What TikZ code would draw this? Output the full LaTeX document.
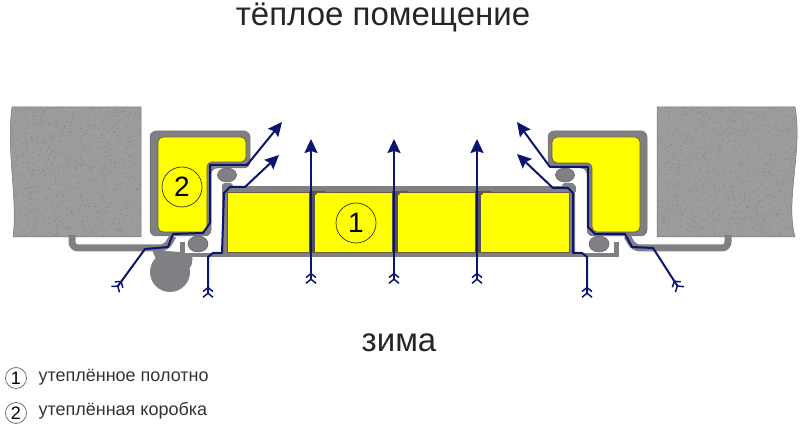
\documentclass[tikz,border=0pt]{standalone}
\usepackage{fontspec}
\setmainfont{Liberation Sans}
\usetikzlibrary{arrows.meta, positioning}

\definecolor{wallgray}{HTML}{9C9C9A}
\definecolor{framegray}{HTML}{808084}
\definecolor{edgebrown}{HTML}{6B5A3A}
\definecolor{fillyellow}{HTML}{FFFF00}
\definecolor{flowblue}{HTML}{0B1470}

\newcommand{\wallleftpath}{(12,107) -- (141,107) -- (141,237) -- (13,237)
    .. controls (18,200) and (6,150) .. (12,107) -- cycle}
\newcommand{\wallrightpath}{(657,107) -- (795,107) .. controls (803,150) and (785,200) .. (795,237)
    -- (657,237) -- cycle}

\tikzset{
    wall/.style={fill=wallgray, draw=black!55, line width=0.5pt},
    speck/.style={fill=black!55, fill opacity=0.45},
    profile/.style={fill=framegray, draw=framegray!85!black, line width=0.5pt},
    insul/.style={fill=fillyellow, draw=edgebrown, line width=0.8pt},
    seal/.style={fill=framegray, draw=framegray!70!black, line width=0.5pt},
    band/.style={draw=framegray, line width=7pt, line join=round},
    flow/.style={draw=flowblue, line width=2pt, line join=round,
        {Straight Barb[reversed,length=4pt,width=10pt,line width=1.5pt] Straight Barb[reversed,length=4pt,width=10pt,line width=1.5pt]}-{Stealth[length=14pt,width=13pt,inset=2pt]}},
    numcircle/.style={circle, draw=black!80, line width=0.7pt, minimum size=40pt, inner sep=0pt, font=\fontsize{28}{30}\selectfont},
    keycircle/.style={circle, draw=black!55, line width=0.8pt, minimum size=21pt, inner sep=0pt, font=\fontsize{18}{20}\selectfont},
    keytext/.style={anchor=west, font=\fontsize{18}{22}\selectfont, text=black!80},
    heading/.style={font=\fontsize{33}{38}\selectfont, text=black!85}
}

\begin{document}
\begin{tikzpicture}[x=1pt,y=-1pt]
    \useasboundingbox (0,0) rectangle (800,438);

    % walls
    \pgfmathsetseed{7}
    \path[wall] \wallleftpath;
    \begin{scope}
        \clip \wallleftpath;
        \foreach \i in {1,...,1100}
            \fill[speck] ({8+rnd*134},{107+rnd*130}) circle (0.6);
    \end{scope}
    \path[wall] \wallrightpath;
    \begin{scope}
        \clip \wallrightpath;
        \foreach \i in {1,...,1100}
            \fill[speck] ({657+rnd*143},{107+rnd*130}) circle (0.6);
    \end{scope}

    % platbands
    \draw[band, rounded corners=6] (72,235) -- (72,248) -- (166,248) -- (173,236);
    \draw[band, rounded corners=6] (728,235) -- (728,248) -- (634,248) -- (627,236);

    % lock
    \fill[framegray] (170,272) circle (20);
    \fill[framegray, rounded corners=3] (152,250) -- (180,252) -- (193,256) -- (191,268) -- (160,268) -- cycle;

    % door profile
    \fill[framegray] (180,253) rectangle (619,257.5);
    \fill[framegray] (180,242) rectangle (185,257);
    \fill[framegray] (614,242) rectangle (619,257);
    \fill[framegray] (222,186) rectangle (576,192);
    \fill[framegray, rounded corners=3] (222,257) -- (222,183) -- (233,183) -- (233,192) -- (227,192) -- (227,257) -- cycle;
    \fill[framegray, rounded corners=3] (569,257) -- (569,192) -- (562,192) -- (562,183) -- (575,183) -- (575,257) -- cycle;
    \path[insul] (227,192) rectangle (569,252);

    % joints of the leaf
    \foreach \jx in {311,394,477} {
        \fill[black!35!framegray] (\jx-2,191) rectangle (\jx+4,252);
        \fill[edgebrown] (\jx+3,191) -- (\jx+14,191) -- (\jx+14,193) -- (\jx+6,193) -- (\jx+5,195) -- (\jx+3,195) -- cycle;
    }

    % frames
    \path[profile, rounded corners=6] (150,131) -- (250,131) -- (250,168) -- (211,168)
        -- (211,236) -- (150,236) -- cycle;
    \path[insul, rounded corners=5] (158,137) -- (246,137) -- (246,162) -- (207,162)
        -- (207,232) -- (158,232) -- cycle;
    \path[profile, rounded corners=6] (548,131) -- (647,131) -- (647,236) -- (587,236)
        -- (587,168) -- (548,168) -- cycle;
    \path[insul, rounded corners=5] (552,137) -- (640,137) -- (640,232) -- (592,232)
        -- (592,163) -- (552,163) -- cycle;

    % seals
    \path[seal] (227,175) ellipse (9.5 and 7);
    \path[seal] (198,244) ellipse (10 and 8);
    \path[seal] (565,175) ellipse (9.5 and 7);
    \path[seal] (599,244) ellipse (10 and 8);

    % air flow
    \draw[flow] (115,290) -- (145,249) -- (168,247) -- (173,234) -- (203,233) -- (210,223)
        -- (210,165) -- (247,165) -- (282,122);
    \draw[flow] (208,298) -- (208,257) -- (213,253) -- (222,253) -- (224,193) -- (230,187)
        -- (245,187) -- (279,155);
    \draw[flow] (680,290) -- (653,248) -- (632,247) -- (625,234) -- (595,234) -- (588,227)
        -- (588,167) -- (550,167) -- (517,122);
    \draw[flow] (587,298) -- (587,257) -- (582,253) -- (573,253) -- (573,193) -- (568,188)
        -- (553,188) -- (517,154);
    \foreach \fx in {311,394,477}
        \draw[flow] (\fx,284) -- (\fx,139);

    % numbers
    \node[numcircle] (leafnum) at (356,223) {1};
    \node[numcircle] (framenum) at (182,187) {2};

    % captions
    \node[heading] (warm) at (383,17) {тёплое помещение};
    \node[heading] (winter) at (399,343) {зима};
    \node[keycircle] (keyone) at (16,378) {1};
    \node[keycircle] (keytwo) at (16,413) {2};
    \node[keytext] (keyonetext) at (35,377) {утеплённое полотно};
    \node[keytext] (keytwotext) at (35,411) {утеплённая коробка};
\end{tikzpicture}
\end{document}
